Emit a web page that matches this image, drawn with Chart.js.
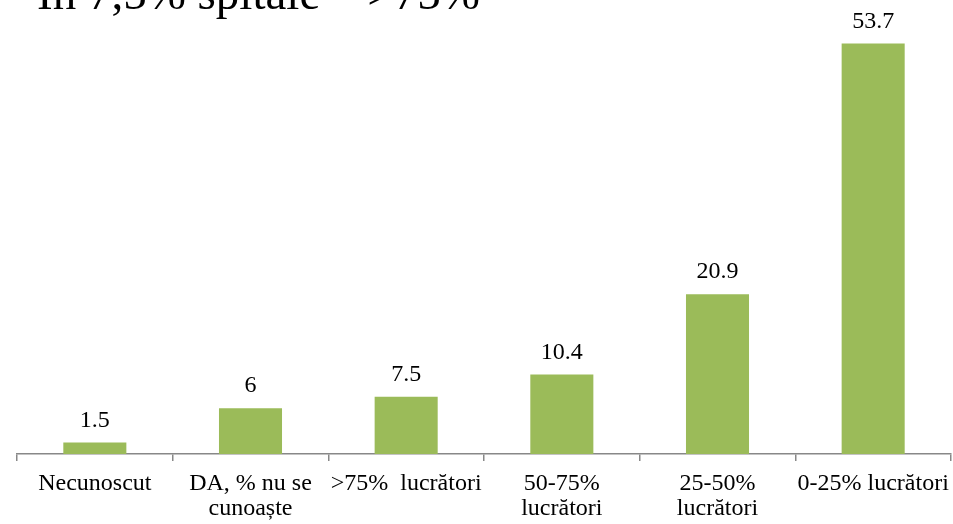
<!DOCTYPE html>
<html>
<head>
<meta charset="utf-8">
<script src="https://cdn.jsdelivr.net/npm/chart.js@4/dist/chart.umd.min.js"></script>
<style>
  html, body { margin: 0; padding: 0; background: #ffffff; overflow: hidden; }
  #wrap { position: relative; width: 953px; height: 524px; }
</style>
</head>
<body>
<div id="wrap"><canvas id="c" width="953" height="524"></canvas></div>
<script>
const titleText = "În 7,5% spitale – >75%";
const categories = [
  "Necunoscut",
  ["DA, % nu se", "cunoaște"],
  ">75%  lucrători",
  ["50-75%", "lucrători"],
  ["25-50%", "lucrători"],
  "0-25% lucrători"
];
const values = [1.5, 6, 7.5, 10.4, 20.9, 53.7];
const valueLabels = ["1.5", "6", "7.5", "10.4", "20.9", "53.7"];

const SERIF = '"Liberation Serif", "Times New Roman", "DejaVu Serif", serif';

const valueLabelPlugin = {
  id: 'valueLabels',
  afterDatasetsDraw(chart) {
    const ctx = chart.ctx;
    const meta = chart.getDatasetMeta(0);
    ctx.save();
    ctx.font = '24px ' + SERIF;
    ctx.fillStyle = '#000000';
    ctx.textAlign = 'center';
    ctx.textBaseline = 'alphabetic';
    meta.data.forEach((bar, i) => {
      ctx.fillText(valueLabels[i], bar.x, bar.y - 16);
    });
    ctx.restore();
  }
};

const titlePlugin = {
  id: 'clippedTitle',
  afterDraw(chart) {
    const ctx = chart.ctx;
    ctx.save();
    ctx.font = '47px ' + SERIF;
    ctx.fillStyle = '#000000';
    ctx.textAlign = 'left';
    ctx.textBaseline = 'alphabetic';
    ctx.fillText(titleText, 37, 9);
    ctx.restore();
  }
};

new Chart(document.getElementById('c'), {
  type: 'bar',
  data: {
    labels: categories,
    datasets: [{
      data: values,
      backgroundColor: '#9BBB59',
      borderWidth: 0,
      categoryPercentage: 1.0,
      barPercentage: 0.405
    }]
  },
  options: {
    responsive: false,
    animation: false,
    devicePixelRatio: 1,
    layout: { padding: { left: 17, right: 2, top: 26, bottom: 0 } },
    plugins: {
      legend: { display: false },
      title: { display: false },
      tooltip: { enabled: false }
    },
    scales: {
      y: {
        display: false,
        min: 0,
        max: 56
      },
      x: {
        offset: true,
        afterFit(scale) {
          scale.height = 70;
          scale.paddingLeft = 0;
          scale.paddingRight = 0;
        },
        border: { display: true, color: '#888888', width: 1.5 },
        grid: {
          offset: true,
          drawOnChartArea: false,
          drawTicks: true,
          tickLength: 7,
          color: '#888888',
          lineWidth: 1.5
        },
        ticks: {
          autoSkip: false,
          maxRotation: 0,
          minRotation: 0,
          padding: 10,
          color: '#000000',
          font: { family: SERIF, size: 24, lineHeight: 1.06 }
        }
      }
    }
  },
  plugins: [valueLabelPlugin, titlePlugin]
});
</script>
</body>
</html>
